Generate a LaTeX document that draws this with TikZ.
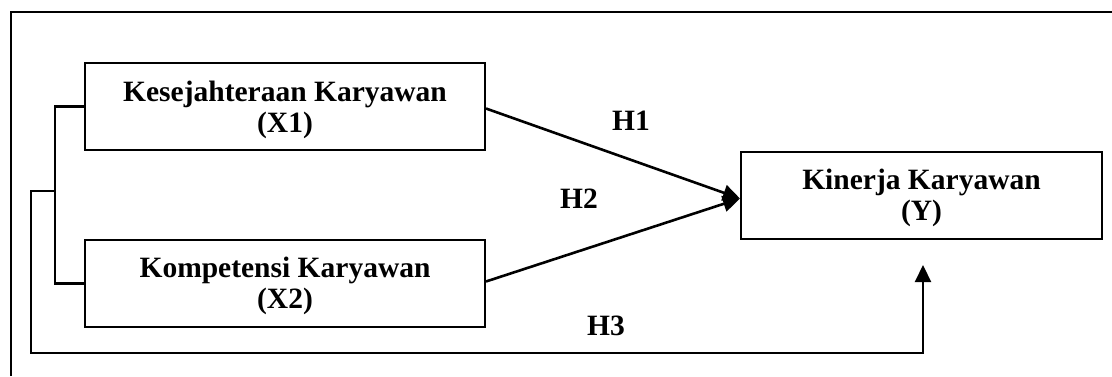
\documentclass[tikz,border=0pt]{standalone}
\usepackage{fontspec}
\setmainfont{Liberation Serif}
\usetikzlibrary{arrows.meta}
\begin{document}
\begin{tikzpicture}[x=1pt,y=-1pt,
  txt/.style={font=\fontsize{29.5}{31}\selectfont\bfseries,inner sep=0pt,align=center},
  box/.style={draw,line width=2pt,minimum width=400pt,minimum height=87pt,inner sep=0pt},
  lbl/.style={font=\fontsize{29.5}{31}\selectfont\bfseries,inner sep=0pt},
  conn/.style={line width=2.2pt},
  arr/.style={line width=2.6pt,-{Triangle[length=17pt,width=16pt]}}]
\useasboundingbox (0,0) rectangle (1112,376);
\fill[white] (0,0) rectangle (1112,376);
\draw[line width=1.8pt] (11,376) -- (11,12) -- (1112,12);
\node[box,label={[txt,yshift=-3pt]center:Kesejahteraan Karyawan\\(X1)}] (X1) at (285,106.5) {};
\node[box,label={[txt,yshift=-2pt]center:Kompetensi Karyawan\\(X2)}] (X2) at (285,283.5) {};
\node[box,minimum width=361pt,label={[txt,yshift=-2pt]center:Kinerja Karyawan\\(Y)}] (Y) at (921.5,195.5) {};
\coordinate (b1) at (55,191);
\coordinate (b2) at (31,353);
\coordinate (t3) at (923,265);
\draw[conn] (X1.west) -| (b1) |- (X2.west);
\draw[conn,-{Triangle[length=17pt,width=16pt]}] (b1) -| (b2) -| (t3);
\draw[arr] ([yshift=-2pt]X1.east) -- ([yshift=-3pt]Y.west);
\draw[arr] ([yshift=2pt]X2.east) -- ([yshift=-3pt]Y.west);
\node[lbl] (h1) at (631,121) {H1};
\node[lbl] (h2) at (579,199) {H2};
\node[lbl] (h3) at (606,326) {H3};
\end{tikzpicture}
\end{document}
